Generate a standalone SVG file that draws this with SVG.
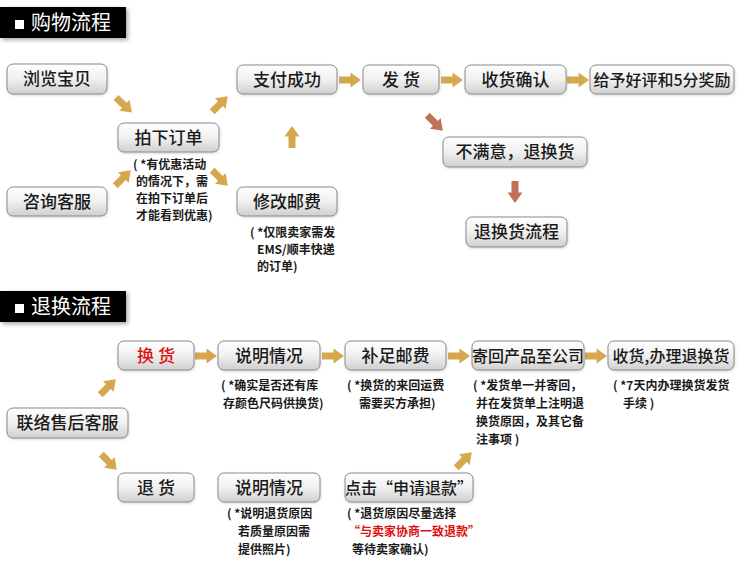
<svg xmlns="http://www.w3.org/2000/svg" width="750" height="579" viewBox="0 0 750 579">
<style>
.bg{fill:#ffffff}
.btn rect{fill:url(#g);stroke:#8a8a8a;stroke-width:1}
.btn text{font-family:"Noto Sans CJK SC","Liberation Sans",sans-serif;font-size:17px;font-weight:500;fill:#1a1a1a;text-anchor:middle}
.note{font-family:"Noto Sans CJK SC","Liberation Sans",sans-serif;font-size:12px;font-weight:700;fill:#1a1a1a}
.note .red,.btn .red{fill:#e01010}
.title .bar{fill:#000}
.title .sq{fill:#fff}
.title text{font-family:"Noto Sans CJK SC","Liberation Sans",sans-serif;font-size:20px;fill:#fff}
.gold{fill:#d6a84e}
.brown{fill:#c1715a}
</style>
<defs>
<linearGradient id="g" x1="0" y1="0" x2="0" y2="1">
<stop offset="0" stop-color="#ffffff"/>
<stop offset="0.5" stop-color="#f0f0f0"/>
<stop offset="1" stop-color="#cfcfcf"/>
</linearGradient>
<filter id="sh" x="-10%" y="-20%" width="130%" height="160%">
<feDropShadow dx="2" dy="2" stdDeviation="2" flood-color="#000" flood-opacity="0.35"/>
</filter>
<filter id="bs" x="-10%" y="-20%" width="130%" height="160%">
<feDropShadow dx="0.5" dy="1" stdDeviation="1" flood-color="#000" flood-opacity="0.18"/>
</filter>
<path id="arr" d="M-11,-3.5 H0.5 V-7.5 L11,0 L0.5,7.5 V3.5 H-11 Z"/>
</defs>
<rect class="bg" width="750" height="579"/>

<g id="title1" class="title">
<rect class="bar" x="0" y="7" width="126" height="31" filter="url(#sh)"/>
<rect class="sq" x="15" y="20" width="9" height="9"/>
<text x="31" y="30">购物流程</text>
</g>
<g id="title2" class="title">
<rect class="bar" x="0" y="291" width="126" height="31" filter="url(#sh)"/>
<rect class="sq" x="15" y="304" width="9" height="9"/>
<text x="31" y="314">退换流程</text>
</g>

<g id="connectors">
<use href="#arr" class="gold" transform="translate(124,105) rotate(43)"/>
<use href="#arr" class="gold" transform="translate(220,104) rotate(-45)"/>
<use href="#arr" class="gold" transform="translate(123,178) rotate(-45)"/>
<use href="#arr" class="gold" transform="translate(220,178) rotate(45)"/>
<use href="#arr" class="gold" transform="translate(292,137) rotate(-90)"/>
<use href="#arr" class="gold" transform="translate(350,80)"/>
<use href="#arr" class="gold" transform="translate(452,80)"/>
<use href="#arr" class="gold" transform="translate(578,80)"/>
<use href="#arr" class="brown" transform="translate(435,123) rotate(45)"/>
<use href="#arr" class="brown" transform="translate(515,192) rotate(90)"/>
<use href="#arr" class="gold" transform="translate(108,387) rotate(-45)"/>
<use href="#arr" class="gold" transform="translate(109,462) rotate(45)"/>
<use href="#arr" class="gold" transform="translate(206,356)"/>
<use href="#arr" class="gold" transform="translate(333,356)"/>
<use href="#arr" class="gold" transform="translate(459,356)"/>
<use href="#arr" class="gold" transform="translate(596,356)"/>
<use href="#arr" class="gold" transform="translate(464,460) rotate(-45)"/>
</g>

<g id="n-browse" class="btn"><rect x="7" y="64" width="100" height="30" rx="6" filter="url(#bs)"/><text x="57" y="85">浏览宝贝</text></g>
<g id="n-order" class="btn"><rect x="118" y="123" width="101" height="29" rx="6" filter="url(#bs)"/><text x="168.5" y="143.5">拍下订单</text></g>
<g id="n-consult" class="btn"><rect x="7" y="187" width="100" height="29" rx="6" filter="url(#bs)"/><text x="57" y="207.5">咨询客服</text></g>
<g id="n-pay" class="btn"><rect x="237" y="65" width="100" height="29" rx="6" filter="url(#bs)"/><text x="287" y="85.5">支付成功</text></g>
<g id="n-ship" class="btn"><rect x="363" y="65" width="76" height="29" rx="6" filter="url(#bs)"/><text x="401" y="85.5">发 货</text></g>
<g id="n-confirm" class="btn"><rect x="465" y="65" width="101" height="29" rx="6" filter="url(#bs)"/><text x="515.5" y="85.5">收货确认</text></g>
<g id="n-rate" class="btn"><rect x="590" y="65" width="144" height="29" rx="6" filter="url(#bs)"/><text x="662" y="85.5" style="font-size:16px">给予好评和5分奖励</text></g>
<g id="n-unhappy" class="btn"><rect x="443" y="137" width="144" height="30" rx="6" filter="url(#bs)"/><text x="515" y="158">不满意，退换货</text></g>
<g id="n-returnflow" class="btn"><rect x="466" y="217" width="101" height="30" rx="6" filter="url(#bs)"/><text x="516.5" y="238">退换货流程</text></g>
<g id="n-postage" class="btn"><rect x="237" y="187" width="100" height="29" rx="6" filter="url(#bs)"/><text x="287" y="207.5">修改邮费</text></g>

<g id="note-order" class="note">
<text x="133" y="169">( *有优惠活动</text>
<text x="136" y="186">的情况下，需</text>
<text x="136" y="203">在拍下订单后</text>
<text x="136" y="220">才能看到优惠)</text>
</g>
<g id="note-postage" class="note">
<text x="250" y="237">( *仅限卖家需发</text>
<text x="257" y="254">EMS/顺丰快递</text>
<text x="257" y="271">的订单)</text>
</g>

<g id="n-exchange" class="btn"><rect x="118" y="341" width="76" height="29" rx="6" filter="url(#bs)"/><text x="156" y="361.5" class="red">换 货</text></g>
<g id="n-explain1" class="btn"><rect x="218" y="341" width="102" height="29" rx="6" filter="url(#bs)"/><text x="269" y="361.5">说明情况</text></g>
<g id="n-topup" class="btn"><rect x="345" y="341" width="101" height="29" rx="6" filter="url(#bs)"/><text x="395.5" y="361.5">补足邮费</text></g>
<g id="n-sendback" class="btn"><rect x="472" y="341" width="112" height="29" rx="6" filter="url(#bs)"/><text x="528" y="361.5" style="font-size:16px">寄回产品至公司</text></g>
<g id="n-receive" class="btn"><rect x="608" y="341" width="126" height="29" rx="6" filter="url(#bs)"/><text x="671" y="361.5" style="font-size:16px">收货,办理退换货</text></g>
<g id="n-aftersale" class="btn"><rect x="7" y="408" width="121" height="30" rx="6" filter="url(#bs)"/><text x="67.5" y="429">联络售后客服</text></g>
<g id="n-refund" class="btn"><rect x="118" y="473" width="76" height="29" rx="6" filter="url(#bs)"/><text x="156" y="493.5">退 货</text></g>
<g id="n-explain2" class="btn"><rect x="218" y="473" width="102" height="29" rx="6" filter="url(#bs)"/><text x="269" y="493.5">说明情况</text></g>
<g id="n-apply" class="btn"><rect x="345" y="473" width="128" height="29" rx="6" filter="url(#bs)"/><text x="409" y="493.5" style="font-size:16px">点击“申请退款”</text></g>

<g id="note-explain1" class="note">
<text x="221" y="390">( *确实是否还有库</text>
<text x="223" y="408">存颜色尺码供换货)</text>
</g>
<g id="note-topup" class="note">
<text x="347" y="390">( *换货的来回运费</text>
<text x="359" y="408">需要买方承担)</text>
</g>
<g id="note-sendback" class="note">
<text x="473" y="390">( *发货单一并寄回，</text>
<text x="476" y="408">并在发货单上注明退</text>
<text x="476" y="426">换货原因，及其它备</text>
<text x="476" y="444">注事项 )</text>
</g>
<g id="note-receive" class="note">
<text x="613" y="390">( *7天内办理换货发货</text>
<text x="623" y="408">手续 )</text>
</g>
<g id="note-explain2" class="note">
<text x="227" y="518">( *说明退货原因</text>
<text x="238" y="536">若质量原因需</text>
<text x="238" y="554">提供照片)</text>
</g>
<g id="note-apply" class="note">
<text x="347" y="518">( *退货原因尽量选择</text>
<text x="348" y="536" class="red">“与卖家协商一致退款”</text>
<text x="352" y="554">等待卖家确认)</text>
</g>
</svg>
